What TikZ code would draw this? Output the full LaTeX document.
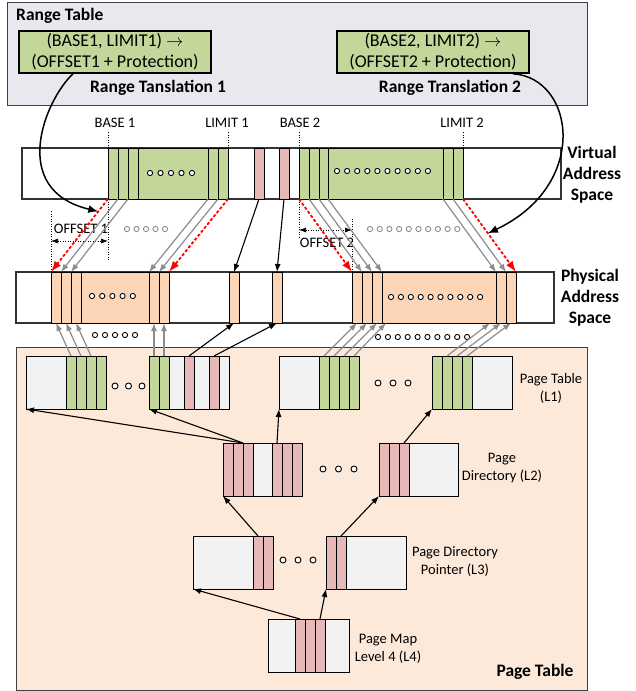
\documentclass[tikz,border=0pt]{standalone}
\usepackage{fontspec}
\setmainfont{Carlito}
\usepackage{tikz}
\usetikzlibrary{arrows.meta,calc}
\definecolor{ATGreen}{HTML}{C4D79B}
\definecolor{ATPink}{HTML}{E6B9B8}
\definecolor{ATOrange}{HTML}{FBD5B5}
\definecolor{ATGrayCell}{HTML}{F2F2F2}
\definecolor{ATPeach}{HTML}{FDE9D9}
\definecolor{ATLav}{HTML}{EAE8EF}
\definecolor{ATArrow}{HTML}{8C8C8C}
\tikzset{
  atFrame/.style={
    rectangle, draw=black!75, fill=#1, line width=1pt,
    inner sep=0pt, outer sep=0pt, anchor=north west
  },
  atEntry/.style={
    rectangle, draw=black, fill=ATGreen, line width=1.5pt, align=center,
    font=\fontsize{18}{21}\selectfont, inner sep=0pt,
    minimum width=192pt, minimum height=42pt
  },
  atBar/.style={
    rectangle, draw=black!80, fill=white, line width=1.2pt,
    inner sep=0pt, outer sep=0pt, anchor=north west, minimum height=51pt
  },
  atCell/.style={
    rectangle, draw=black, fill=#1, line width=1pt,
    inner sep=0pt, outer sep=0pt, anchor=north west, minimum height=53pt
  },
  atText/.style={font=\fontsize{14.5}{18}\selectfont, inner sep=0pt, align=center},
  atTitle/.style={font=\fontsize{17.5}{21}\selectfont\bfseries, inner sep=0pt, align=center},
  atMap/.style={-{Latex[length=8pt,width=6pt]}, draw=ATArrow, line width=1.2pt},
  atFirst/.style={-{Latex[length=11pt,width=8pt]}, draw=red, line width=1.8pt, dash pattern=on 3pt off 2pt},
  atPtr/.style={-{Latex[length=8pt,width=6pt]}, draw=black, line width=1.1pt},
  atCurve/.style={-{Latex[length=10pt,width=8pt]}, draw=black, line width=1.5pt},
  atGuide/.style={draw=black, line width=0.7pt, dash pattern=on 1pt off 1.5pt},
  atSpan/.style={{Latex[length=7pt,width=5pt]}-{Latex[length=7pt,width=5pt]}, atGuide},
  atHole/.style={draw=#1, fill=white, line width=0.9pt}
}
\begin{document}
\begin{tikzpicture}[x=1pt, y=-1pt]
  \useasboundingbox (0,0) rectangle (636,691);

  % range table
  \node[atFrame=ATLav, minimum width=580pt, minimum height=103pt] (rangetab) at (7,2) {};
  \node[atTitle, anchor=west] (rangelbl) at (16,16) {Range Table};
  \node[atEntry] (rt1) at (115,52) {(BASE1, LIMIT1) $\rightarrow$\\(OFFSET1 + Protection)};
  \node[atEntry] (rt2) at (433,52) {(BASE2, LIMIT2) $\rightarrow$\\(OFFSET2 + Protection)};
  \node[atTitle] (rt1name) at (158,88) {Range Tanslation 1};
  \node[atTitle] (rt2name) at (450,88) {Range Translation 2};

  % page table frame
  \node[atFrame=ATPeach, minimum width=571pt, minimum height=343pt] (pagetab) at (16,347) {};

  % virtual address space
  \node[atBar, minimum width=539pt] (vbar) at (22,148) {};
  \foreach \n/\x/\w/\col in {1a/108/10/ATGreen, 1b/118/10/ATGreen, 1c/128/10/ATGreen, 1m/138/70/ATGreen,
      1d/208/10/ATGreen, 1e/218/10/ATGreen, 3/254/10/ATPink, 4/279/10/ATPink,
      2a/299/10/ATGreen, 2b/309/10/ATGreen, 2c/319/9/ATGreen, 2m/328/115/ATGreen,
      2d/443/10/ATGreen, 2e/453/10/ATGreen}
    \node[atCell=\col, minimum width=\w pt, minimum height=51pt] (v\n) at (\x,148) {};
  \node[atTitle] (vlbl) at (592,175) {Virtual\\Address\\Space};

  % physical address space
  \node[atBar, minimum width=538pt] (pbar) at (16,272) {};
  \foreach \n/\x/\w in {1a/51/10, 1b/61/10, 1c/71/10, 1m/81/68, 1d/149/10, 1e/159/10,
      3/229/10, 4/272/10, 2a/352/10, 2b/362/10, 2c/372/10, 2m/382/114, 2d/496/10, 2e/506/10}
    \node[atCell=ATOrange, minimum width=\w pt, minimum height=51pt] (p\n) at (\x,272) {};
  \node[atTitle] (plbl) at (590,298) {Physical\\Address\\Space};

  % dots
  \foreach \k in {0,...,4} {
    \draw[atHole=black] ({150+10.5*\k},173) circle (2.6);
    \draw[atHole=black] ({92+10.2*\k},296) circle (2.6);
    \draw[atHole=ATArrow] ({127+9.5*\k},229) circle (2.6);
    \draw[atHole=black] ({95+10*\k},335) circle (2.6);
  }
  \foreach \k in {0,...,9} {
    \draw[atHole=black] ({337+10.1*\k},171) circle (2.6);
    \draw[atHole=black] ({391+9.9*\k},297) circle (2.6);
    \draw[atHole=ATArrow] ({370+9.7*\k},229) circle (2.6);
    \draw[atHole=black] ({378+9.9*\k},337) circle (2.6);
  }

  % base and limit marks
  \node[atText] (base1) at (115,123) {BASE 1};
  \node[atText] (limit1) at (227,123) {LIMIT 1};
  \node[atText] (base2) at (300,123) {BASE 2};
  \node[atText] (limit2) at (462,123) {LIMIT 2};
  \draw[atGuide] (v1a.north west) -- ++(0,-16);
  \draw[atGuide] (v1e.north east) -- ++(0,-16);
  \draw[atGuide] (v2a.north west) -- ++(0,-16);
  \draw[atGuide] (v2e.north east) -- ++(0,-16);

  % offsets
  \draw[atGuide] (p1a.north west) -- ++(0,-62);
  \draw[atGuide] (v1a.south west) -- ++(0,61);
  \draw[atSpan] ($(p1a.north west)+(0,-31)$) -- ($(v1a.south west)+(0,42)$);
  \node[atText] (off1) at (81,229) {OFFSET 1};
  \draw[atGuide] (v2a.south west) -- ++(0,39);
  \draw[atGuide] (p2a.north west) -- ++(0,-53);
  \draw[atSpan] ($(v2a.south west)+(0,31)$) -- ($(p2a.north west)+(0,-42)$);
  \node[atText] (off2) at (327,243) {OFFSET 2};

  % range mappings
  \draw[atMap] (v1b.south west) -- (p1b.north west);
  \draw[atMap] (v1c.south west) -- (p1c.north west);
  \draw[atMap] (v1d.south west) -- (p1d.north west);
  \draw[atMap] (v1e.south west) -- (p1e.north west);
  \draw[atMap] (v2b.south west) -- (p2b.north west);
  \draw[atMap] (v2c.south west) -- (p2c.north west);
  \draw[atMap] (v2m.south west) -- (p2m.north west);
  \draw[atMap] (v2d.south west) -- (p2d.north west);
  \draw[atMap] (v2e.south west) -- (p2e.north west);
  \draw[atFirst] (v1a.south west) -- (p1a.north west);
  \draw[atFirst] (v1e.south east) -- (p1e.north east);
  \draw[atFirst] (v2a.south west) -- (p2a.north west);
  \draw[atFirst] (v2e.south east) -- (p2e.north east);
  \draw[atPtr] (v3.south) -- (p3.north);
  \draw[atPtr] (v4.south) -- (p4.north);

  % range table entries point at their mappings
  \coordinate (hit1) at ($(v1a.south west)!0.17!(p1a.north west)$);
  \coordinate (hit2) at ($(v2e.south east)!0.47!(p2e.north east)$);
  \draw[atCurve] ([xshift=-42pt]rt1.south) .. controls (45,100) and (8,190) .. (hit1);
  \draw[atCurve] ([xshift=80pt]rt2.south) .. controls (575,78) and (590,185) .. (hit2);

  % page table L1
  \node[atCell=ATGrayCell, minimum width=80pt] (l1a) at (26,356) {};
  \node[atCell=ATGrayCell, minimum width=80pt] (l1b) at (149,356) {};
  \node[atCell=ATGrayCell, minimum width=80pt] (l1c) at (279,356) {};
  \node[atCell=ATGrayCell, minimum width=80pt] (l1d) at (432,356) {};
  \foreach \i/\x in {1/66, 2/76, 3/86, 4/96}
    \node[atCell=ATGreen, minimum width=10pt] (l1a\i) at (\x,356) {};
  \foreach \i/\x/\col in {1/149/ATGreen, 2/159/ATGreen, 3/184/ATPink, 4/209/ATPink}
    \node[atCell=\col, minimum width=10pt] (l1b\i) at (\x,356) {};
  \foreach \i/\x in {1/319, 2/329, 3/339, 4/349}
    \node[atCell=ATGreen, minimum width=10pt] (l1c\i) at (\x,356) {};
  \foreach \i/\x in {1/432, 2/442, 3/452, 4/462}
    \node[atCell=ATGreen, minimum width=10pt] (l1d\i) at (\x,356) {};
  \node[atText] (l1lbl) at (551,388) {Page Table\\(L1)};

  % page table L2
  \node[atCell=ATGrayCell, minimum width=79pt] (l2a) at (223,443) {};
  \node[atCell=ATGrayCell, minimum width=79pt] (l2b) at (379,443) {};
  \foreach \i/\x in {1/223, 2/233, 3/243, 4/272, 5/282, 6/292}
    \node[atCell=ATPink, minimum width=10pt] (l2a\i) at (\x,443) {};
  \foreach \i/\x in {1/379, 2/389, 3/399}
    \node[atCell=ATPink, minimum width=10pt] (l2b\i) at (\x,443) {};
  \node[atText] (l2lbl) at (502,468) {Page\\Directory (L2)};

  % page table L3
  \node[atCell=ATGrayCell, minimum width=80pt] (l3a) at (193,536) {};
  \node[atCell=ATGrayCell, minimum width=80pt] (l3b) at (326,536) {};
  \foreach \i/\x in {1/253, 2/263}
    \node[atCell=ATPink, minimum width=10pt] (l3a\i) at (\x,536) {};
  \foreach \i/\x in {1/326, 2/336}
    \node[atCell=ATPink, minimum width=10pt] (l3b\i) at (\x,536) {};
  \node[atText] (l3lbl) at (455,562) {Page Directory\\Pointer (L3)};

  % page table L4
  \node[atCell=ATGrayCell, minimum width=81pt] (l4a) at (268,619) {};
  \foreach \i/\x in {1/295, 2/305, 3/315}
    \node[atCell=ATPink, minimum width=10pt] (l4a\i) at (\x,619) {};
  \node[atText] (l4lbl) at (388,649) {Page Map\\Level 4 (L4)};
  \node[atTitle] (ptlbl) at (535,672) {Page Table};

  % page table dots
  \foreach \k in {0,1,2} {
    \draw[atHole=black] ({115+13.5*\k},386) circle (3);
    \draw[atHole=black] ({378+15*\k},383) circle (3);
    \draw[atHole=black] ({323+15.5*\k},469) circle (3);
    \draw[atHole=black] ({283+15*\k},560) circle (3);
  }

  % L1 entries to physical pages
  \draw[atMap] (l1a1.north) -- (p1a.south);
  \draw[atMap] (l1a2.north) -- (p1b.south);
  \draw[atMap] (l1a3.north) -- (p1c.south);
  \draw[atMap] (l1b1.north) -- (p1d.south);
  \draw[atMap] (l1b2.north) -- (p1e.south);
  \draw[atMap] (l1c1.north) -- (p2a.south);
  \draw[atMap] (l1c2.north) -- (p2b.south);
  \draw[atMap] (l1c3.north) -- (p2c.south);
  \draw[atMap] (l1c4.north) -- ([xshift=4pt]p2m.south west);
  \draw[atMap] (l1d2.north) -- ([xshift=-6pt]p2d.south west);
  \draw[atMap] (l1d3.north) -- (p2d.south);
  \draw[atMap] (l1d4.north) -- (p2e.south);
  \draw[atPtr] (l1b3.north) -- (p3.south);
  \draw[atPtr] (l1b4.north) -- (p4.south);

  % walk pointers
  \draw[atPtr] (l2a3.north west) -- (l1a.south west);
  \draw[atPtr] (l2a3.north west) -- (l1b.south west);
  \draw[atPtr] (l2a4.north) -- (l1c.south west);
  \draw[atPtr] (l2b3.north) -- (l1d.south west);
  \draw[atPtr] (l3a1.north) -- (l2a.south west);
  \draw[atPtr] (l3b2.north) -- (l2b.south west);
  \draw[atPtr] (l4a1.north) -- (l3a.south west);
  \draw[atPtr] (l4a3.north) -- (l3b.south west);
\end{tikzpicture}
\end{document}
